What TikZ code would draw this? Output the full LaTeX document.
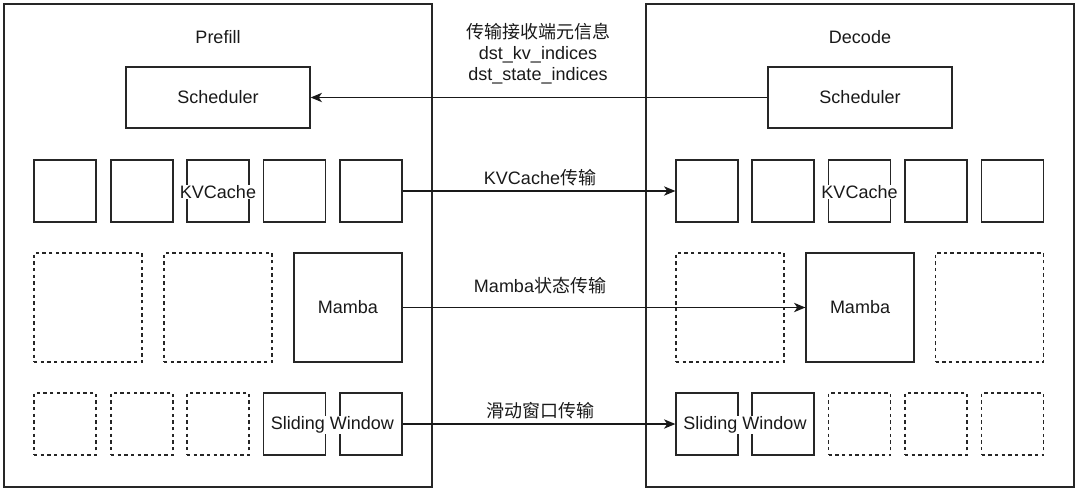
\documentclass[tikz,border=0pt]{standalone}
\usepackage{fontspec}
\setmainfont{Liberation Sans}
\newfontfamily\cjk{Noto Sans CJK SC}
\usetikzlibrary{arrows.meta}
\begin{document}
\begin{tikzpicture}[x=0.75pt,y=-0.75pt,
  every node/.style={font=\fontsize{13.5}{15.75}\selectfont, text=black!90},
  panel/.style={draw=black!85, line width=1.1pt, minimum width=321pt, minimum height=362pt, inner sep=0pt},
  sbox/.style={draw=black!85, line width=0.95pt, minimum width=46.5pt, minimum height=46.5pt, inner sep=0pt},
  bbox/.style={draw=black!85, line width=0.95pt, minimum width=81pt, minimum height=81.75pt, inner sep=0pt},
  dsh/.style={dash pattern=on 2.6pt off 2.4pt},
  sched/.style={draw=black!85, line width=0.95pt, minimum width=138pt, minimum height=45.75pt, inner sep=0pt},
  lbl/.style={fill=white, inner sep=0.5pt},
  conn/.style={draw=black!90, line width=1pt, -{Stealth[length=8.5pt,width=7pt,inset=2.4pt]}}
]
\useasboundingbox (0,0) rectangle (1080,492);
% panels
\node[panel] (pre) at (218,245.5) {};
\node[panel] (dec) at (860,245.5) {};
\node (preT) at (218,37) {Prefill};
\node (decT) at (860,37) {Decode};
% schedulers
\node[sched] (schL) at (218,97.5) {\raisebox{-0.8pt}{Scheduler}};
\node[sched] (schR) at (860,97.5) {\raisebox{-0.8pt}{Scheduler}};
% KV row left
\node[sbox] (kl1) at (65,191) {};
\node[sbox] (kl2) at (142,191) {};
\node[sbox] (kl3) at (218,191) {};
\node[sbox] (kl4) at (294.5,191) {};
\node[sbox] (kl5) at (371,191) {};
\node[lbl] (klT) at (218,192) {KVCache};
% KV row right
\node[sbox] (kr1) at (707,191) {};
\node[sbox] (kr2) at (783,191) {};
\node[sbox] (kr3) at (859.5,191) {};
\node[sbox] (kr4) at (936,191) {};
\node[sbox] (kr5) at (1012.5,191) {};
\node[lbl] (krT) at (859.5,192) {KVCache};
% Mamba row
\node[bbox,dsh] (ml1) at (88,307.5) {};
\node[bbox,dsh] (ml2) at (218,307.5) {};
\node[bbox] (ml3) at (348,307.5) {\raisebox{-0.8pt}{Mamba}};
\node[bbox,dsh] (mr1) at (730,307.5) {};
\node[bbox] (mr2) at (860,307.5) {\raisebox{-0.8pt}{Mamba}};
\node[bbox,dsh] (mr3) at (989.5,307.5) {};
% SW row left
\node[sbox,dsh] (sl1) at (65,424) {};
\node[sbox,dsh] (sl2) at (142,424) {};
\node[sbox,dsh] (sl3) at (218,424) {};
\node[sbox] (sl4) at (294.5,424) {};
\node[sbox] (sl5) at (371,424) {};
\node[lbl] (slT) at (332.5,425) {Sliding Window};
% SW row right
\node[sbox] (sr1) at (707,424) {};
\node[sbox] (sr2) at (783,424) {};
\node[sbox,dsh] (sr3) at (859.5,424) {};
\node[sbox,dsh] (sr4) at (936,424) {};
\node[sbox,dsh] (sr5) at (1012.5,424) {};
\node[lbl] (srT) at (745,425) {Sliding Window};
% connectors
\draw[conn] (schR.west) -- (schL.east);
\draw[conn] (kl5.east) -- (kr1.west);
\draw[conn] (ml3.east) -- (mr2.west);
\draw[conn] (sl5.east) -- (sr1.west);
% labels
\node[align=center] (topL) at (538,54) {{\cjk 传输接收端元信息}\\dst\_kv\_indices\\dst\_state\_indices};
\node (kvL) at (540,178) {KVCache{\cjk 传输}};
\node (mL) at (540,286) {Mamba{\cjk 状态传输}};
\node (sL) at (540,411) {{\cjk 滑动窗口传输}};
\end{tikzpicture}
\end{document}
